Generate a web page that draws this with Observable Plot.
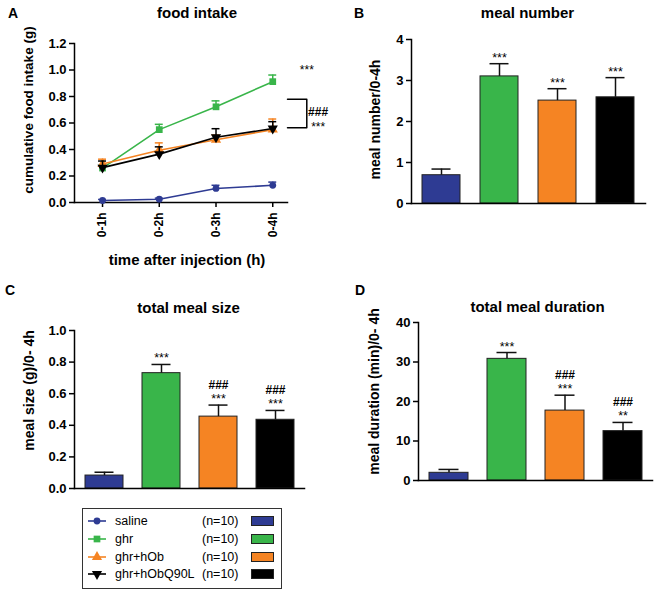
<!DOCTYPE html>
<html><head><meta charset="utf-8">
<script src="https://cdn.jsdelivr.net/npm/d3@7"></script>
<script src="https://cdn.jsdelivr.net/npm/@observablehq/plot@0.6"></script>
<style>
body{margin:0;background:#fff;font-family:"Liberation Sans",Arial,sans-serif;}
#root{position:relative;width:656px;height:592px;overflow:hidden;background:#fff;}
.panel{position:absolute;}
.letter{position:absolute;font-weight:bold;font-size:14px;line-height:14px;color:#000;}
</style></head><body><div id="root"></div>
<script>
// ---------- data ----------
const groups = ["saline", "ghr", "ghr+hOb", "ghr+hObQ90L"];
const groupN = ["(n=10)", "(n=10)", "(n=10)", "(n=10)"];
const colors = ["#2E3B93", "#39B54A", "#F58423", "#000000"];
const timeLabels = ["0-1h", "0-2h", "0-3h", "0-4h"];
const intakeTicks = [0, 0.2, 0.4, 0.6, 0.8, 1.0, 1.2];

const intakeSaline = [0.015, 0.025, 0.106, 0.13];
const intakeSalineErr = [0.008, 0.008, 0.024, 0.024];
const intakeGhr = [0.26, 0.55, 0.722, 0.912];
const intakeGhrErr = [0.02, 0.04, 0.045, 0.05];
const intakeHOb = [0.29, 0.395, 0.474, 0.55];
const intakeHObErr = [0.037, 0.055, 0.035, 0.08];
const intakeQ90L = [0.263, 0.365, 0.492, 0.558];
const intakeQ90LErr = [0.05, 0.055, 0.065, 0.052];

// annotations in panel A (x in time-index units, y in g)
const annotA = [
  {x: 4.6, y: 1.0, text: "***", anchor: "middle", size: 12, weight: "normal"},
  {x: 4.8, y: 0.68, text: "###", anchor: "start", size: 12, weight: "bold"},
  {x: 4.8, y: 0.565, text: "***", anchor: "start", size: 12, weight: "normal"}
];
const bracketA = [{x: 4.26, y: 0.78}, {x: 4.6, y: 0.78}, {x: 4.6, y: 0.565}, {x: 4.26, y: 0.565}];

const mealNumber = [0.69, 3.10, 2.51, 2.59];
const mealNumberErr = [0.15, 0.31, 0.29, 0.48];
const mealNumberSig = ["", "***", "***", "***"];
const mealNumberHash = ["", "", "", ""];
const mealNumberTicks = [0, 1, 2, 3, 4];

const mealSize = [0.082, 0.73, 0.455, 0.435];
const mealSizeErr = [0.021, 0.055, 0.073, 0.059];
const mealSizeSig = ["", "***", "***", "***"];
const mealSizeHash = ["", "", "###", "###"];
const mealSizeTicks = [0, 0.2, 0.4, 0.6, 0.8, 1.0];

const mealDuration = [1.95, 30.8, 17.7, 12.5];
const mealDurationErr = [0.85, 1.6, 3.9, 2.2];
const mealDurationSig = ["", "***", "***", "**"];
const mealDurationHash = ["", "", "###", "###"];
const mealDurationTicks = [0, 10, 20, 30, 40];

// ---------- helpers ----------
const FONT = "'Liberation Sans', Arial, sans-serif";
const root = document.getElementById("root");
const triangleDown = {
  draw(ctx, size) {
    const y = -Math.sqrt(size / (Math.sqrt(3) * 3));
    ctx.moveTo(0, -y * 2);
    ctx.lineTo(-Math.sqrt(3) * y, y);
    ctx.lineTo(Math.sqrt(3) * y, y);
    ctx.closePath();
  }
};
const symbols = ["circle", "square", "triangle", triangleDown];
const d3symbols = [d3.symbolCircle, d3.symbolSquare, d3.symbolTriangle, triangleDown];

function place(node, left, top, width) {
  const div = document.createElement("div");
  div.className = "panel";
  div.style.left = left + "px";
  div.style.top = top + "px";
  div.style.width = width + "px";
  div.appendChild(node);
  root.appendChild(div);
}
function letter(txt, left, top) {
  const d = document.createElement("div");
  d.className = "letter";
  d.textContent = txt;
  d.style.left = left + "px";
  d.style.top = top + "px";
  root.appendChild(d);
}

// ---------- panel A ----------
const seriesA = [
  [intakeSaline, intakeSalineErr],
  [intakeGhr, intakeGhrErr],
  [intakeHOb, intakeHObErr],
  [intakeQ90L, intakeQ90LErr]
];
const marksA = [];
seriesA.forEach(([vals, errs], i) => {
  const rows = vals.map((v, j) => ({t: j + 1, v, e: errs[j]}));
  marksA.push(
    Plot.ruleX(rows, {x: "t", y1: "v", y2: d => d.v + d.e, stroke: colors[i], strokeWidth: 1.5}),
    Plot.ruleY(rows, {y: d => d.v + d.e, x1: d => d.t - 0.07, x2: d => d.t + 0.07, stroke: colors[i], strokeWidth: 1.5}),
    Plot.line(rows, {x: "t", y: "v", stroke: colors[i], strokeWidth: 1.6}),
    Plot.dot(rows, {x: "t", y: "v", symbol: symbols[i], r: i === 0 ? 3.4 : 3.8, fill: colors[i], stroke: "none"})
  );
});

const plotA = Plot.plot({
  width: 330, height: 270,
  marginLeft: 74, marginRight: 43, marginTop: 43, marginBottom: 68,
  style: {fontFamily: FONT, background: "transparent", overflow: "visible", color: "#000"},
  x: {type: "linear", domain: [0.506, 4.26], axis: null},
  y: {domain: [0, 1.2], axis: null},
  marks: [
    Plot.axisY({ticks: intakeTicks, tickFormat: d3.format(".1f"), tickSize: 5, tickPadding: 3, fontSize: 13, fontWeight: "bold", strokeWidth: 1.5, label: null}),
    Plot.axisX({ticks: [1, 2, 3, 4], tickFormat: d => timeLabels[d - 1], tickRotate: -90, tickSize: 5, tickPadding: 5, fontSize: 12, fontWeight: "bold", strokeWidth: 1.5, label: null}),
    Plot.frame({anchor: "left", strokeWidth: 1.5}),
    Plot.frame({anchor: "bottom", strokeWidth: 1.5}),
    ...marksA,
    Plot.line(bracketA, {x: "x", y: "y", stroke: "#000", strokeWidth: 1.5}),
    Plot.text(annotA.filter(d => d.weight === "normal"), {x: "x", y: "y", text: "text", textAnchor: "anchor", fontSize: 12}),
    Plot.text(annotA.filter(d => d.weight === "bold"), {x: "x", y: "y", text: "text", textAnchor: "anchor", fontSize: 12, fontWeight: "bold"}),
    Plot.text(["food intake"], {frameAnchor: "top", dy: -30, dx: 16, fontSize: 15, fontWeight: "bold", lineAnchor: "middle"}),
    Plot.text(["cumulative food intake (g)"], {frameAnchor: "left", rotate: -90, dx: -46, dy: -13, fontSize: 13.5, fontWeight: "bold", lineAnchor: "middle", textAnchor: "middle"}),
    Plot.text(["time after injection (h)"], {frameAnchor: "bottom", dy: 58, dx: 6, fontSize: 15, fontWeight: "bold", lineAnchor: "middle"})
  ]
});
place(plotA, 0, 0, 330);

// ---------- bar panels ----------
function barPanel(o) {
  const data = groups.map((g, i) => ({group: g, value: o.values[i], err: o.errs[i], sig: o.sig[i], hash: o.hash[i]}));
  return Plot.plot({
    width: o.width, height: o.height,
    marginLeft: o.ml, marginRight: o.mr, marginTop: o.mt, marginBottom: o.mb,
    style: {fontFamily: FONT, background: "transparent", overflow: "visible", color: "#000"},
    x: {domain: groups, paddingInner: o.pi, paddingOuter: o.po, axis: null},
    y: {domain: [0, o.yMax], axis: null},
    color: {domain: groups, range: colors},
    marks: [
      Plot.axisY({ticks: o.ticks, tickFormat: o.fmt, tickSize: 5, tickPadding: 3, fontSize: 13, fontWeight: "bold", strokeWidth: 1.5, label: null}),
      Plot.barY(data, {x: "group", y: "value", fill: "group", stroke: "#222", strokeWidth: 1}),
      Plot.ruleX(data, {x: "group", y1: "value", y2: d => d.value + d.err, stroke: "#111", strokeWidth: 1.5}),
      Plot.tickY(data, {x: "group", y: d => d.value + d.err, inset: 9.5, stroke: "#111", strokeWidth: 1.5}),
      Plot.text(data, {x: "group", y: d => d.value + d.err, text: "sig", dy: -2, lineAnchor: "bottom", fontSize: 12.5}),
      Plot.text(data, {x: "group", y: d => d.value + d.err, text: "hash", dy: -16, lineAnchor: "bottom", fontSize: 12, fontWeight: "bold"}),
      Plot.frame({anchor: "left", strokeWidth: 1.5}),
      Plot.frame({anchor: "bottom", strokeWidth: 1.5}),
      Plot.text([o.title], {frameAnchor: "top", dy: o.titleDy, dx: o.titleDx, fontSize: 15, fontWeight: "bold", lineAnchor: "middle"}),
      Plot.text([o.ylabel], {frameAnchor: "left", rotate: -90, dx: o.labelDx, dy: o.labelDy, fontSize: 14, fontWeight: "bold", lineAnchor: "middle", textAnchor: "middle"})
    ]
  });
}

place(barPanel({
  values: mealNumber, errs: mealNumberErr, sig: mealNumberSig, hash: mealNumberHash,
  yMax: 4, ticks: mealNumberTicks, fmt: d3.format("d"),
  title: "meal number", ylabel: "meal number/0-4h",
  width: 326, height: 270, ml: 81, mr: 11, mt: 39, mb: 67, pi: 0.339, po: 0.153,
  titleDy: -26, titleDx: -1, labelDx: -36, labelDy: -2
}), 330, 0, 326);

place(barPanel({
  values: mealSize, errs: mealSizeErr, sig: mealSizeSig, hash: mealSizeHash,
  yMax: 1.0, ticks: mealSizeTicks, fmt: d3.format(".1f"),
  title: "total meal size", ylabel: "meal size (g)/0- 4h",
  width: 330, height: 210, ml: 74, mr: 26, mt: 40, mb: 12, pi: 0.337, po: 0.175,
  titleDy: -22, titleDx: -1, labelDx: -45, labelDy: -19
}), 0, 290, 330);

place(barPanel({
  values: mealDuration, errs: mealDurationErr, sig: mealDurationSig, hash: mealDurationHash,
  yMax: 40, ticks: mealDurationTicks, fmt: d3.format("d"),
  title: "total meal duration", ylabel: "meal duration (min)/0- 4h",
  width: 326, height: 210, ml: 88, mr: 4, mt: 32, mb: 20, pi: 0.328, po: 0.181,
  titleDy: -15, titleDx: 2, labelDx: -44, labelDy: -10
}), 330, 290, 326);

letter("A", 8, 6);
letter("B", 354, 6);
letter("C", 5, 283);
letter("D", 355, 283);

// ---------- legend ----------
const lg = d3.create("svg").attr("width", 200).attr("height", 81)
  .style("font-family", FONT).style("overflow", "visible");
lg.append("rect").attr("x", 0.5).attr("y", 0.5).attr("width", 199).attr("height", 80)
  .attr("fill", "#fff").attr("stroke", "#333").attr("stroke-width", 1);
const rowY = [13, 31, 49, 66];
groups.forEach((g, i) => {
  const y = rowY[i];
  lg.append("line").attr("x1", 6).attr("x2", 24).attr("y1", y).attr("y2", y)
    .attr("stroke", colors[i]).attr("stroke-width", 1.6);
  lg.append("path").attr("transform", `translate(15,${y})`)
    .attr("d", d3.symbol(d3symbols[i], i === 0 ? 36 : 45)()).attr("fill", colors[i]);
  lg.append("text").attr("x", 33).attr("y", y).attr("dy", "0.35em").attr("font-size", 12.5).text(g);
  lg.append("text").attr("x", 120).attr("y", y).attr("dy", "0.35em").attr("font-size", 12.5).text(groupN[i]);
  lg.append("rect").attr("x", 169.5).attr("y", y - 4.5).attr("width", 22).attr("height", 9)
    .attr("fill", colors[i]).attr("stroke", "#222").attr("stroke-width", 1);
});
place(lg.node(), 82, 508, 200);
</script>
</body></html>
